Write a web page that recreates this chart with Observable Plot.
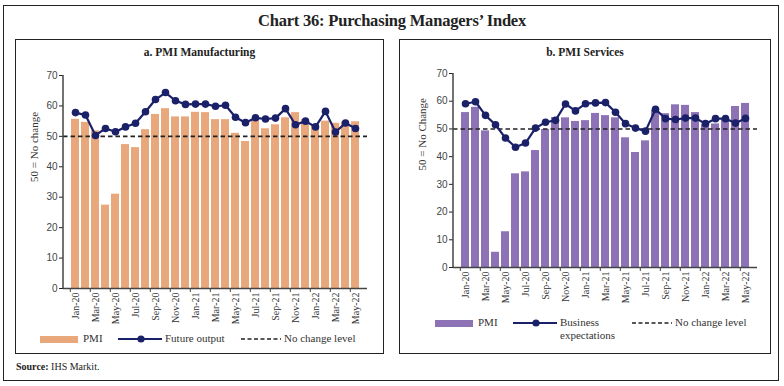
<!DOCTYPE html>
<html>
<head>
<meta charset="utf-8">
<script src="https://cdn.jsdelivr.net/npm/d3@7"></script>
<script src="https://cdn.jsdelivr.net/npm/@observablehq/plot@0.6"></script>
<style>
  html, body { margin: 0; padding: 0; background: #fff; }
  #root { position: relative; width: 784px; height: 386px; background: #fff; overflow: hidden;
          font-family: "Liberation Serif", "DejaVu Serif", serif; color: #222; }
  .box { position: absolute; border: 1.5px solid #222; box-sizing: border-box; }
  .abs { position: absolute; white-space: nowrap; }
  .title { font-size: 16.5px; font-weight: bold; letter-spacing: -0.2px; }
  .ptitle { font-size: 11.5px; font-weight: bold; }
  .leg { font-size: 11px; color: #333; }
  .swatch { position: absolute; }
</style>
</head>
<body>
<div id="root"></div>
<script>
// ---- data ----
const months = ["Jan-20","Feb-20","Mar-20","Apr-20","May-20","Jun-20","Jul-20","Aug-20","Sep-20","Oct-20","Nov-20","Dec-20",
  "Jan-21","Feb-21","Mar-21","Apr-21","May-21","Jun-21","Jul-21","Aug-21","Sep-21","Oct-21","Nov-21","Dec-21",
  "Jan-22","Feb-22","Mar-22","Apr-22","May-22"];
const mfgPMI = [55.6,54.6,51.8,27.4,31.0,47.3,46.3,52.2,57.2,59.1,56.4,56.4,57.9,57.8,55.5,55.5,51.0,48.3,55.3,52.5,53.8,56.1,57.8,55.5,53.7,55.0,54.3,54.7,54.8];
const futureOutput = [57.8,57.0,50.3,52.6,51.5,53.1,54.3,58.1,62.1,64.4,61.7,60.5,60.6,60.6,59.9,60.2,56.3,54.5,56.1,55.7,56.0,59.1,53.8,55.0,53.1,58.2,51.4,54.4,52.6];
const svcPMI = [55.9,57.8,49.3,5.5,12.9,33.8,34.5,42.2,49.8,54.1,54.0,52.7,53.0,55.6,54.8,54.0,46.8,41.5,45.7,56.7,55.5,58.7,58.5,55.9,51.5,51.8,53.6,58.1,59.2];
const bizExp = [59.1,59.8,54.9,51.5,46.7,43.4,44.9,50.3,52.4,53.1,59.0,56.5,59.1,59.4,59.5,56.0,51.9,50.3,49.2,57.1,53.7,53.4,53.9,53.9,51.9,53.7,53.7,52.1,53.8];
const noChange = [50];
const yTicks = [0,10,20,30,40,50,60,70];
const xTicks = months.filter((d, i) => i % 2 === 0);

const colors = { mfg: "#E9A87C", svc: "#8D73B6", line: "#1B2169", dash: "#222" };

const root = document.getElementById("root");
function add(html) { root.insertAdjacentHTML("beforeend", html); }

// frames and titles
add(`<div class="box" style="left:3px;top:5px;width:776px;height:376px;"></div>`);
add(`<div class="abs title" style="left:0;width:784px;text-align:center;top:11px;">Chart 36: Purchasing Managers’ Index</div>`);
add(`<div class="box" style="left:15px;top:39px;width:369px;height:315px;"></div>`);
add(`<div class="box" style="left:399px;top:39px;width:372px;height:315px;"></div>`);
add(`<div class="abs ptitle" style="left:15px;width:369px;text-align:center;top:46px;">a. PMI Manufacturing</div>`);
add(`<div class="abs ptitle" style="left:399px;width:372px;text-align:center;top:46px;">b. PMI Services</div>`);
add(`<div class="abs" style="left:16px;top:361px;font-size:10px;"><b>Source:</b> IHS Markit.</div>`);

function panel({left, top, width, height, mL, mT, mB, mR, bars, line, barColor, ylabel, labelDx}) {
  const data = months.map((m, i) => ({m, bar: bars[i], line: line[i]}));
  const chart = Plot.plot({
    width, height,
    marginLeft: mL, marginTop: mT, marginBottom: mB, marginRight: mR,
    x: {domain: months, paddingInner: 0.24, paddingOuter: 0.06, axis: null},
    y: {domain: [0, 70], axis: null},
    style: {background: "transparent", fontFamily: "'Liberation Serif', serif", overflow: "visible"},
    marks: [
      Plot.barY(data, {x: "m", y: "bar", fill: barColor}),
      Plot.ruleY(noChange, {stroke: colors.dash, strokeWidth: 1.6, strokeDasharray: "4.5,3"}),
      Plot.lineY(data, {x: "m", y: "line", stroke: colors.line, strokeWidth: 2.2}),
      Plot.dot(data, {x: "m", y: "line", fill: colors.line, r: 3.8}),
      Plot.ruleY([0], {stroke: "#444", strokeWidth: 1.5}),
      Plot.axisY({ticks: yTicks, tickSize: 4, tickPadding: 2, fontSize: 10, fill: "#444",
                  fontFamily: "'Liberation Sans', sans-serif", label: null}),
      Plot.text([ylabel], {frameAnchor: "left", rotate: -90, dx: labelDx, fontSize: 11, fill: "#333",
                  fontFamily: "'Liberation Serif', serif"}),
      Plot.axisX({ticks: xTicks, tickSize: 0, tickRotate: -90, tickPadding: 4, fontSize: 10, fill: "#333", label: null}),
      Plot.axisX({ticks: xTicks, tickSize: 4, tickFormat: () => "", dx: -5.2, label: null, stroke: "#444"})
    ]
  });
  const ys = chart.scale("y"), xs = chart.scale("x");
  d3.select(chart).append("line")
    .attr("x1", xs.range[0]).attr("x2", xs.range[0])
    .attr("y1", ys.range[0]).attr("y2", ys.range[1])
    .attr("stroke", "#444").attr("stroke-width", 1.5);
  chart.style.position = "absolute";
  chart.style.left = left + "px";
  chart.style.top = top + "px";
  root.appendChild(chart);
}

panel({left: 15, top: 60, width: 368, height: 270, mL: 48, mT: 15, mB: 42, mR: 16,
       bars: mfgPMI, line: futureOutput, barColor: colors.mfg, ylabel: "50 = No change", labelDx: -29});
panel({left: 399, top: 60, width: 371, height: 270, mL: 54, mT: 13, mB: 63, mR: 13,
       bars: svcPMI, line: bizExp, barColor: colors.svc, ylabel: "50 = No Change", labelDx: -31});

// legends
function legend(y, barColor, x0, lineLabel, dashX) {
  add(`<div class="swatch" style="left:${x0}px;top:${y - 3}px;width:38px;height:7px;background:${barColor}"></div>`);
  add(`<div class="abs leg" style="left:${x0 + 43}px;top:${y - 7}px;">PMI</div>`);
  const lx = x0 + 78;
  add(`<svg class="swatch" style="left:${lx}px;top:${y - 5}px" width="46" height="10"><line x1="0" x2="44" y1="5" y2="5" stroke="${colors.line}" stroke-width="2.2"/><circle cx="23" cy="5" r="3.6" fill="${colors.line}"/></svg>`);
  add(`<div class="abs leg" style="left:${lx + 47}px;top:${y - 7}px;line-height:13px;">${lineLabel}</div>`);
  add(`<svg class="swatch" style="left:${dashX}px;top:${y - 3}px" width="42" height="6"><line x1="0" x2="40" y1="3" y2="3" stroke="${colors.dash}" stroke-width="1.5" stroke-dasharray="4,2.5"/></svg>`);
  add(`<div class="abs leg" style="left:${dashX + 43}px;top:${y - 7}px;">No change level</div>`);
}
legend(339, colors.mfg, 40, "Future output", 241);
legend(323, colors.svc, 435, "Business<br>expectations", 632);
</script>
</body>
</html>
